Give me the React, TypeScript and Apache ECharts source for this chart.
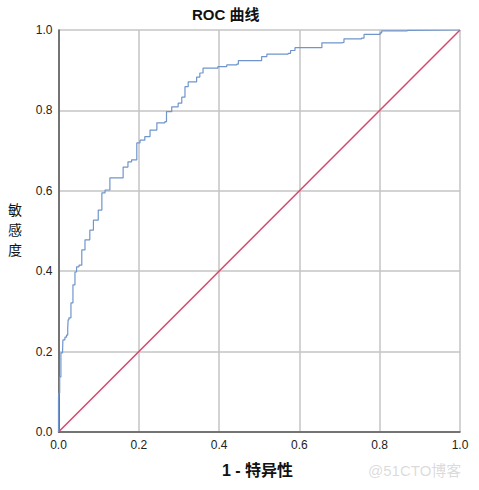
import React, { useEffect, useRef } from "react";
import * as echarts from "echarts";

const titleText = "ROC 曲线";
const xAxisName = "1 - 特异性";
const yAxisName = "敏感度";
const tickValues = [0, 0.2, 0.4, 0.6, 0.8, 1.0];

// 1 - specificity
const rocX = [
  0, 0, 0.001, 0.003, 0.006, 0.01, 0.011, 0.016, 0.02, 0.023, 0.024, 0.026, 0.031, 0.036,
  0.041, 0.045, 0.051, 0.058, 0.066, 0.078, 0.087, 0.099, 0.108, 0.116, 0.128, 0.148,
  0.161, 0.173, 0.182, 0.195, 0.203, 0.215, 0.228, 0.245, 0.265, 0.269, 0.282, 0.298,
  0.307, 0.315, 0.323, 0.344, 0.352, 0.36, 0.397, 0.419, 0.444, 0.448, 0.502, 0.506,
  0.519, 0.572, 0.578, 0.589, 0.651, 0.656, 0.704, 0.711, 0.755, 0.761, 0.801, 0.805,
  0.867, 0.871, 1.0,
];
// sensitivity
const rocY = [
  0, 0.085, 0.097, 0.137, 0.197, 0.199, 0.229, 0.236, 0.241, 0.259, 0.279, 0.284, 0.321,
  0.366, 0.398, 0.411, 0.415, 0.453, 0.478, 0.502, 0.527, 0.552, 0.595, 0.602, 0.632,
  0.632, 0.659, 0.672, 0.677, 0.719, 0.726, 0.735, 0.751, 0.769, 0.772, 0.797, 0.809,
  0.818, 0.833, 0.859, 0.871, 0.883, 0.893, 0.905, 0.909, 0.913, 0.915, 0.924, 0.924,
  0.934, 0.94, 0.942, 0.949, 0.956, 0.956, 0.968, 0.969, 0.978, 0.98, 0.989, 0.993,
  0.998, 0.999, 1.0, 1.0,
];
const refX = [0, 1];
const refY = [0, 1];

export default function App() {
  const ref = useRef<HTMLDivElement>(null);
  useEffect(() => {
    if (!ref.current) return;
    const chart = echarts.init(ref.current, null, { renderer: "svg" });
    const labelFont = {
      color: "#222",
      fontSize: 12,
      fontFamily: "Liberation Sans, Arial, sans-serif",
    };
    const yNameChars = yAxisName.split("").map((ch, i) => ({
      type: "text",
      left: 8,
      top: 202 + i * 20,
      style: {
        text: ch,
        fontSize: 14,
        fill: "#111",
        fontFamily: "Noto Sans CJK SC, sans-serif",
      },
    }));
    chart.setOption({
      animation: false,
      backgroundColor: "#ffffff",
      grid: { left: 58.5, top: 30, right: 19, bottom: 58, containLabel: false },
      xAxis: {
        type: "value",
        min: 0,
        max: 1,
        interval: 0.2,
        axisLine: { show: true, onZero: false, lineStyle: { color: "#555", width: 1.5 } },
        axisTick: { show: false },
        splitLine: { show: true, lineStyle: { color: "#c4c4c4", width: 1.5 } },
        axisLabel: {
          ...labelFont,
          margin: 7,
          showMinLabel: true,
          showMaxLabel: true,
          formatter: (v: number) => v.toFixed(1),
        },
      },
      yAxis: {
        type: "value",
        min: 0,
        max: 1,
        interval: 0.2,
        axisLine: { show: true, onZero: false, lineStyle: { color: "#555", width: 1.5 } },
        axisTick: { show: false },
        splitLine: { show: true, lineStyle: { color: "#c4c4c4", width: 1.5 } },
        axisLabel: {
          ...labelFont,
          margin: 6,
          formatter: (v: number) => v.toFixed(1),
        },
      },
      series: [
        {
          type: "line",
          data: refX.map((x, i) => [x, refY[i]]),
          symbol: "none",
          lineStyle: { color: "#d4486c", width: 1.5 },
          z: 3,
        },
        {
          type: "line",
          data: rocX.map((x, i) => [x, rocY[i]]),
          step: "end",
          symbol: "none",
          lineStyle: { color: "#6f95cc", width: 1.2 },
          z: 4,
        },
      ],
      graphic: [
        {
          type: "text",
          left: 230 - 38,
          top: 7,
          style: {
            text: titleText,
            fontSize: 15,
            fontWeight: "bold",
            fill: "#111",
            fontFamily: "Liberation Sans, Noto Sans CJK SC, sans-serif",
          },
        },
        ...yNameChars,
        {
          type: "text",
          left: 222,
          top: 462,
          style: {
            text: xAxisName,
            fontSize: 16,
            fontWeight: "bold",
            fill: "#111",
            fontFamily: "Liberation Sans, Noto Sans CJK SC, sans-serif",
          },
        },
        {
          type: "text",
          left: 368,
          top: 463,
          style: {
            text: "@51CTO博客",
            fontSize: 15,
            fill: "rgba(150,150,150,0.35)",
            fontFamily: "Liberation Sans, Noto Sans CJK SC, sans-serif",
          },
        },
      ],
    });
    return () => chart.dispose();
  }, []);
  return (
    <div
      ref={ref}
      style={{ position: "fixed", left: 0, top: 0, width: 479, height: 490, background: "#fff" }}
    />
  );
}
